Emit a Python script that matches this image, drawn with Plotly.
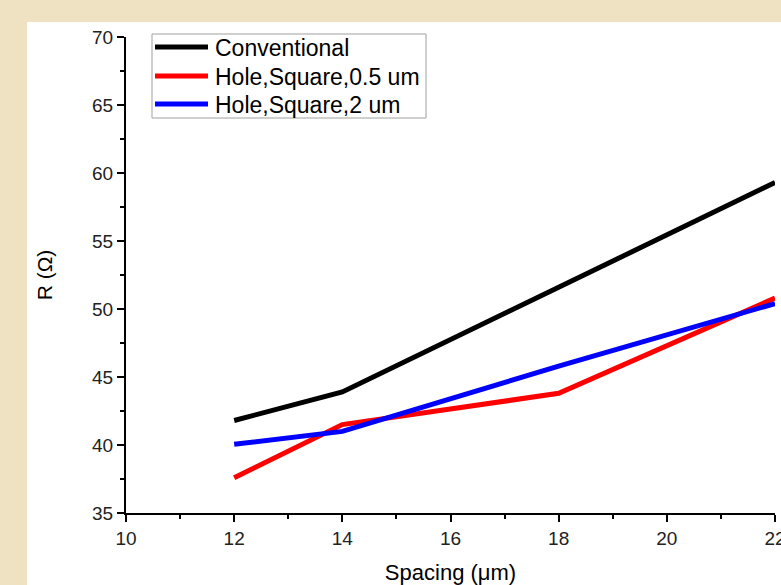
import plotly.graph_objects as go

spacing = [12, 14, 18, 22]
conventional = [41.8, 43.9, 51.6, 59.3]
hole_sq_05 = [37.6, 41.5, 43.8, 50.8]
hole_sq_2 = [40.05, 41.0, 45.8, 50.4]

series_names = ["Conventional", "Hole,Square,0.5 um", "Hole,Square,2 um"]
series_colors = ["#000000", "#FF0000", "#0000FF"]
series_values = [conventional, hole_sq_05, hole_sq_2]

x_ticks = [10, 12, 14, 16, 18, 20, 22]
y_ticks = [35, 40, 45, 50, 55, 60, 65, 70]

W, H = 781, 585
ML, MR, MT, MB = 126, 6, 37, 72
PW, PH = W - ML - MR, H - MT - MB


def px_x(px):
    return (px - ML) / PW


def px_y(py):
    return (H - MB - py) / PH


font_family = "Liberation Sans, Arial, sans-serif"

fig = go.Figure()
for name, color, vals in zip(series_names, series_colors, series_values):
    fig.add_trace(go.Scatter(
        x=spacing, y=vals, mode="lines", name=name,
        line=dict(color=color, width=5), showlegend=False,
    ))

# background white panel
shapes = [dict(
    type="rect", xref="paper", yref="paper",
    x0=px_x(27), x1=px_x(W + 20), y0=px_y(H + 20), y1=px_y(22),
    fillcolor="white", line=dict(width=0), layer="below",
)]

# legend box (drawn manually to match tight Origin-style layout)
shapes.append(dict(
    type="rect", xref="paper", yref="paper",
    x0=px_x(152), x1=px_x(426), y0=px_y(118), y1=px_y(34),
    fillcolor="white", line=dict(color="#A0A0A0", width=1), layer="above",
))
annotations = []
row_y = [47, 76, 104]
for name, color, ry in zip(series_names, series_colors, row_y):
    shapes.append(dict(
        type="line", xref="paper", yref="paper",
        x0=px_x(155), x1=px_x(208), y0=px_y(ry), y1=px_y(ry),
        line=dict(color=color, width=5), layer="above",
    ))
    annotations.append(dict(
        text=name, xref="paper", yref="paper",
        x=px_x(213), y=px_y(ry + 1), xanchor="left", yanchor="middle",
        showarrow=False, font=dict(size=23, family=font_family, color="black"),
    ))

fig.update_layout(
    width=W, height=H,
    margin=dict(l=ML, r=MR, t=MT, b=MB),
    paper_bgcolor="#EFE2C2",
    plot_bgcolor="white",
    font=dict(family=font_family, color="#000000"),
    showlegend=False,
    shapes=shapes,
    annotations=annotations,
)

fig.update_xaxes(
    range=[10, 22], tickvals=x_ticks, ticktext=[str(v) for v in x_ticks],
    showgrid=False, zeroline=False,
    showline=True, linecolor="black", linewidth=2,
    ticks="outside", ticklen=7, tickwidth=2, tickcolor="black",
    minor=dict(dtick=1, ticklen=4, tickwidth=2, tickcolor="black", ticks="outside", showgrid=False),
    tickfont=dict(size=19, family=font_family, color="#222222"),
    ticklabeloverflow="allow",
    title=dict(text="Spacing (μm)", font=dict(size=22, family=font_family), standoff=24),
    automargin=False,
)
fig.update_yaxes(
    range=[35, 70], tickvals=y_ticks, ticktext=[str(v) for v in y_ticks],
    showgrid=False, zeroline=False,
    showline=True, linecolor="black", linewidth=2,
    ticks="outside", ticklen=7, tickwidth=2, tickcolor="black",
    minor=dict(dtick=2.5, ticklen=4, tickwidth=2, tickcolor="black", ticks="outside", showgrid=False),
    tickfont=dict(size=19, family=font_family, color="#222222"),
    title=dict(text="R (Ω)", font=dict(size=21, family=font_family), standoff=34),
    automargin=False,
)

fig.write_html(
    "out.html",
    config={"displayModeBar": False},
    post_script="document.body.style.margin='0';",
)
